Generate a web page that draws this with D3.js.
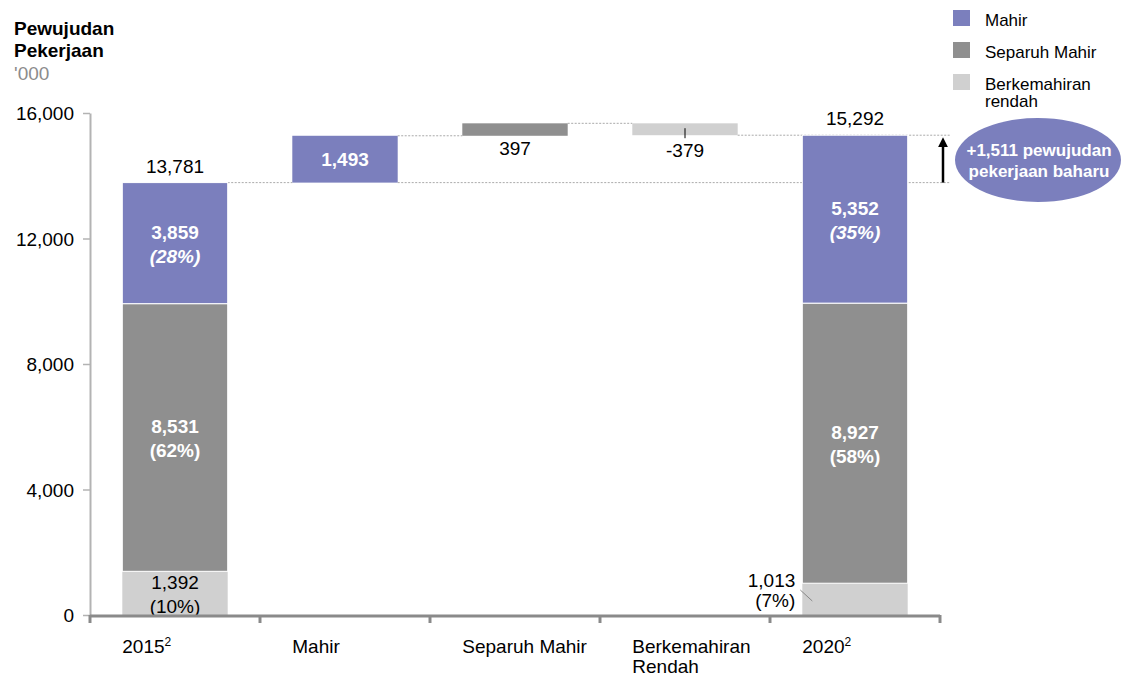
<!DOCTYPE html>
<html>
<head>
<meta charset="utf-8">
<script src="https://cdn.jsdelivr.net/npm/d3@7"></script>
<style>
  body { margin: 0; background: #fff; }
  svg text { font-family: 'Liberation Sans', Arial, sans-serif; }
</style>
</head>
<body>
<svg id="chart" width="1123" height="678"></svg>
<script>
// data
var categories = [ '2015', 'Mahir', 'Separuh Mahir', 'Berkemahiran Rendah', '2020' ];
var skills = [ 'Berkemahiran rendah', 'Separuh Mahir', 'Mahir' ];
var values2015 = [ 1392, 8531, 3859 ];
var values2020 = [ 1013, 8927, 5352 ];
var pct2015 = [ '(10%)', '(62%)', '(28%)' ];
var pct2020 = [ '(7%)', '(58%)', '(35%)' ];
var total2015 = 13781, total2020 = 15292;
var deltas = [ 1493, 397, -379 ];
var netNew = 1511;
var yTicks = [ 0, 4000, 8000, 12000, 16000 ];

var svg = d3.select( '#chart' ),
  margin = { top: 113, right: 183, bottom: 63, left: 90 },
  W = +svg.attr( 'width' ), H = +svg.attr( 'height' );

var colors = { 'Mahir': '#7b7fbd', 'Separuh Mahir': '#8f8f8f', 'Berkemahiran rendah': '#d0d0d0' };
var fmt = d => ( d < 0 ? '-' : '' ) + d3.format( ',' )( Math.abs( d ) );
var FS = 19;

var x = d3.scaleBand()
  .domain( categories )
  .range( [ margin.left, W - margin.right ] );

var y = d3.scaleLinear()
  .domain( [ 0, 16000 ] )
  .range( [ H - margin.bottom, margin.top ] );

var barW = x.bandwidth() * 0.62;
var bx = c => x( c ) + ( x.bandwidth() - barW ) / 2;

/* Title */
var title = svg.append( 'g' ).style( 'font-size', FS );
title.append( 'text' ).attr( 'x', 14 ).attr( 'y', 35 ).style( 'font-weight', 'bold' ).text( 'Pewujudan' );
title.append( 'text' ).attr( 'x', 14 ).attr( 'y', 57 ).style( 'font-weight', 'bold' ).text( 'Pekerjaan' );
title.append( 'text' ).attr( 'x', 14 ).attr( 'y', 80 ).style( 'fill', '#8c8c8c' ).text( "'000" );

/* Y axis */
var yAxis = svg.append( 'g' )
  .attr( 'transform', 'translate(' + margin.left + ',0)' )
  .call( d3.axisLeft( y ).tickValues( yTicks ).tickFormat( fmt ).tickSize( 7 ).tickSizeOuter( 0 ) );
yAxis.select( '.domain' ).attr( 'stroke', '#b3b3b3' ).attr( 'stroke-width', 2 );
yAxis.selectAll( '.tick line' ).attr( 'stroke', '#b3b3b3' ).attr( 'stroke-width', 1.5 );
yAxis.selectAll( '.tick text' ).attr( 'x', -16 ).attr( 'dy', '0.35em' )
  .style( 'font-size', FS ).style( 'fill', '#000' ).style( 'font-family', "'Liberation Sans', Arial, sans-serif" );

/* Dotted connectors */
var dots = svg.append( 'g' ).attr( 'stroke', '#aaa' ).attr( 'stroke-width', 1 ).attr( 'stroke-dasharray', '2,1.5' );
dots.append( 'line' ).attr( 'x1', bx( categories[ 0 ] ) + barW ).attr( 'x2', bx( categories[ 1 ] ) )
  .attr( 'y1', y( total2015 ) ).attr( 'y2', y( total2015 ) );
dots.append( 'line' ).attr( 'x1', bx( categories[ 1 ] ) + barW ).attr( 'x2', 950 )
  .attr( 'y1', y( total2015 ) ).attr( 'y2', y( total2015 ) );
var level = total2015;
deltas.forEach( ( d, i ) => {
  level += d;
  var x1 = bx( categories[ i + 1 ] ) + barW,
    x2 = i === deltas.length - 1 ? 950 : bx( categories[ i + 2 ] );
  dots.append( 'line' ).attr( 'x1', x1 ).attr( 'x2', x2 ).attr( 'y1', y( level ) ).attr( 'y2', y( level ) );
} );

/* Stacked bars */
function stacked( cat, vals, pcts, total ) {
  var base = 0;
  vals.forEach( ( v, i ) => {
    var top = base + v, k = skills[ i ];
    svg.append( 'rect' )
      .attr( 'x', bx( cat ) ).attr( 'width', barW )
      .attr( 'y', y( top ) ).attr( 'height', y( base ) - y( top ) )
      .attr( 'fill', colors[ k ] ).attr( 'stroke', '#fff' ).attr( 'stroke-width', i > 0 ? 1 : 0 );
    var mid = ( y( base ) + y( top ) ) / 2;
    var light = i === 0;
    var outside = light && cat === '2020';
    var tx = outside ? bx( cat ) - 7 : bx( cat ) + barW / 2;
    var g = svg.append( 'g' ).attr( 'text-anchor', outside ? 'end' : 'middle' )
      .style( 'font-size', FS ).style( 'fill', light ? '#000' : '#fff' )
      .style( 'font-weight', light ? 'normal' : 'bold' );
    var y0 = y( base );
    g.append( 'text' ).attr( 'x', tx ).attr( 'y', outside ? y0 - 28 : mid - 4 ).text( fmt( v ) );
    g.append( 'text' ).attr( 'x', tx ).attr( 'y', outside ? y0 - 8 : mid + 20 )
      .style( 'font-style', k === 'Mahir' ? 'italic' : 'normal' ).text( pcts[ i ] );
    if ( outside ) {
      svg.append( 'line' ).attr( 'x1', bx( cat ) - 2 ).attr( 'y1', y0 - 25 )
        .attr( 'x2', bx( cat ) + 10 ).attr( 'y2', y0 - 14 ).attr( 'stroke', '#888' ).attr( 'stroke-width', 1 );
    }
    base = top;
  } );
  svg.append( 'text' ).attr( 'x', bx( cat ) + barW / 2 ).attr( 'y', y( base ) - 10 )
    .attr( 'text-anchor', 'middle' ).style( 'font-size', FS ).text( fmt( total ) );
}
stacked( categories[ 0 ], values2015, pct2015, total2015 );
stacked( categories[ 4 ], values2020, pct2020, total2020 );

/* Delta bars */
var running = total2015;
deltas.forEach( ( d, i ) => {
  var cat = categories[ i + 1 ], k = skills[ 2 - i ];
  var y0 = running, y1 = running + d;
  var x0 = bx( cat );
  svg.append( 'rect' )
    .attr( 'x', x0 ).attr( 'width', barW )
    .attr( 'y', y( Math.max( y0, y1 ) ) ).attr( 'height', Math.abs( y( y0 ) - y( y1 ) ) )
    .attr( 'fill', colors[ k ] );
  var cx = x0 + barW / 2;
  if ( i === 0 ) {
    svg.append( 'text' ).attr( 'x', cx ).attr( 'y', ( y( y0 ) + y( y1 ) ) / 2 + 7 )
      .attr( 'text-anchor', 'middle' ).style( 'font-size', FS ).style( 'font-weight', 'bold' ).style( 'fill', '#fff' )
      .text( fmt( d ) );
  } else {
    var bottom = y( Math.min( y0, y1 ) );
    svg.append( 'text' ).attr( 'x', cx ).attr( 'y', bottom + ( d < 0 ? 22 : 19 ) )
      .attr( 'text-anchor', 'middle' ).style( 'font-size', FS ).text( fmt( d ) );
    if ( d < 0 ) {
      svg.append( 'line' ).attr( 'x1', cx ).attr( 'x2', cx ).attr( 'y1', bottom - 7 ).attr( 'y2', bottom + 3 )
        .attr( 'stroke', '#000' ).attr( 'stroke-width', 1 );
    }
  }
  running = y1;
} );

/* X axis */
var xAxis = svg.append( 'g' ).attr( 'stroke', '#8a8a8a' );
xAxis.append( 'line' ).attr( 'x1', margin.left ).attr( 'x2', W - margin.right )
  .attr( 'y1', y( 0 ) + 1 ).attr( 'y2', y( 0 ) + 1 ).attr( 'stroke-width', 3 );
d3.range( categories.length + 1 ).forEach( i => {
  var xx = margin.left + i * x.step();
  xAxis.append( 'line' ).attr( 'x1', xx ).attr( 'x2', xx ).attr( 'y1', y( 0 ) ).attr( 'y2', y( 0 ) + 8 ).attr( 'stroke-width', 3 );
} );

var xLabels = svg.append( 'g' ).style( 'font-size', FS );
categories.forEach( c => {
  var t = xLabels.append( 'text' ).attr( 'x', bx( c ) ).attr( 'y', y( 0 ) + 38 );
  if ( c === '2015' || c === '2020' ) {
    t.append( 'tspan' ).text( c );
    t.append( 'tspan' ).attr( 'dy', -7 ).style( 'font-size', 12 ).text( '2' );
  } else if ( c === 'Berkemahiran Rendah' ) {
    t.append( 'tspan' ).attr( 'x', bx( c ) ).text( 'Berkemahiran' );
    t.append( 'tspan' ).attr( 'x', bx( c ) ).attr( 'dy', 20 ).text( 'Rendah' );
  } else {
    t.text( c );
  }
} );

/* Net change arrow + bubble */
svg.append( 'defs' ).append( 'marker' )
  .attr( 'id', 'arrow' ).attr( 'viewBox', '0 0 10 10' ).attr( 'refX', 5 ).attr( 'refY', 5 )
  .attr( 'markerWidth', 4 ).attr( 'markerHeight', 5 ).attr( 'orient', 'auto' )
  .append( 'path' ).attr( 'd', 'M0,0L10,5L0,10Z' ).attr( 'fill', '#000' );
svg.append( 'line' )
  .attr( 'x1', 943 ).attr( 'x2', 943 )
  .attr( 'y1', y( total2015 ) ).attr( 'y2', y( total2020 ) + 7 )
  .attr( 'stroke', '#000' ).attr( 'stroke-width', 2.5 ).attr( 'marker-end', 'url(#arrow)' );

svg.append( 'ellipse' ).attr( 'cx', 1038 ).attr( 'cy', 160 ).attr( 'rx', 83 ).attr( 'ry', 42 ).attr( 'fill', colors[ 'Mahir' ] );
var bubble = svg.append( 'g' ).attr( 'text-anchor', 'middle' ).style( 'font-size', 17 )
  .style( 'font-weight', 'bold' ).style( 'fill', '#fff' );
bubble.append( 'text' ).attr( 'x', 1039 ).attr( 'y', 156 ).text( '+' + fmt( netNew ) + ' pewujudan' );
bubble.append( 'text' ).attr( 'x', 1039 ).attr( 'y', 177 ).text( 'pekerjaan baharu' );

/* Legend */
var legend = svg.append( 'g' ).attr( 'transform', 'translate(953,10)' );
[ 'Mahir', 'Separuh Mahir', 'Berkemahiran rendah' ].forEach( ( k, i ) => {
  legend.append( 'rect' ).attr( 'x', 0 ).attr( 'y', i * 32 ).attr( 'width', 17 ).attr( 'height', 16 ).attr( 'fill', colors[ k ] );
  var t = legend.append( 'text' ).attr( 'x', 32 ).attr( 'y', i * 32 + 16 ).style( 'font-size', 17 );
  if ( k === 'Berkemahiran rendah' ) {
    t.append( 'tspan' ).attr( 'x', 32 ).text( 'Berkemahiran' );
    t.append( 'tspan' ).attr( 'x', 32 ).attr( 'dy', 17 ).text( 'rendah' );
  } else {
    t.text( k );
  }
} );
</script>
</body>
</html>
